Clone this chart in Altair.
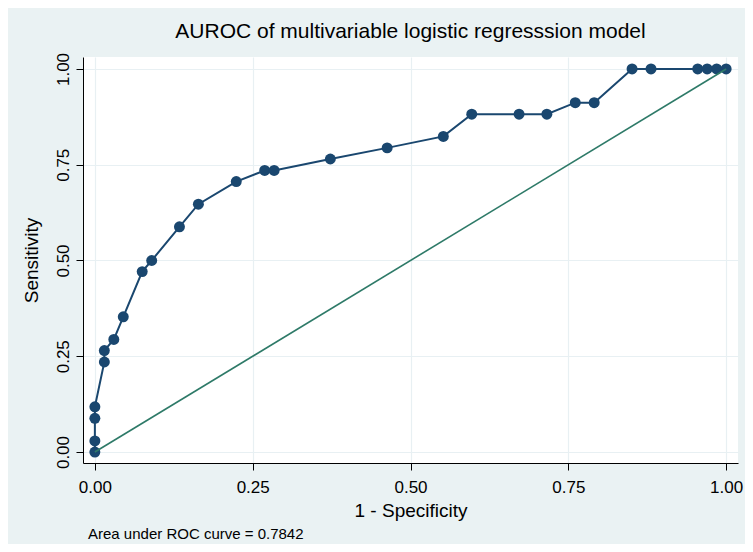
import altair as alt
import pandas as pd

# ROC curve points (1 - specificity, sensitivity)
fpr = [0.000, 0.000, 0.000, 0.000, 0.015, 0.015, 0.030, 0.045, 0.075, 0.090,
       0.134, 0.164, 0.224, 0.269, 0.284, 0.373, 0.463, 0.552, 0.597, 0.672,
       0.716, 0.761, 0.791, 0.851, 0.881, 0.955, 0.970, 0.985, 1.000]
sens = [0.000, 0.029, 0.088, 0.118, 0.235, 0.265, 0.294, 0.353, 0.471, 0.500,
        0.588, 0.647, 0.706, 0.735, 0.735, 0.765, 0.794, 0.824, 0.882, 0.882,
        0.882, 0.912, 0.912, 1.000, 1.000, 1.000, 1.000, 1.000, 1.000]
diag_x = [0.0, 1.0]
diag_y = [0.0, 1.0]
ticks = [0.0, 0.25, 0.5, 0.75, 1.0]
title_text = "AUROC of multivariable logistic regresssion model"
note_text = "Area under ROC curve = 0.7842"

roc = pd.DataFrame({"fpr": fpr, "sens": sens, "order": list(range(len(fpr)))})
diag = pd.DataFrame({"fpr": diag_x, "sens": diag_y})

FONT = "Liberation Sans"
NAVY = "#1A476F"
GREEN = "#2E7A68"

xs = alt.Scale(domain=[-0.0188, 1.0188], nice=False, zero=False)
ys = alt.Scale(domain=[-0.0287, 1.0313], nice=False, zero=False)

xaxis = alt.Axis(values=ticks, format=".2f", title="1 - Specificity",
                 labelFontSize=17, titleFontSize=19, tickSize=7,
                 labelPadding=9, titlePadding=6)
yaxis = alt.Axis(values=ticks, format=".2f", title="Sensitivity",
                 labelFontSize=17, titleFontSize=19, tickSize=7,
                 labelAngle=270, labelAlign="center", labelBaseline="bottom",
                 labelPadding=4, titlePadding=13)

line = alt.Chart(roc).mark_line(color=NAVY, strokeWidth=2).encode(
    x=alt.X("fpr:Q", scale=xs, axis=xaxis),
    y=alt.Y("sens:Q", scale=ys, axis=yaxis),
    order="order:Q",
)
pts = alt.Chart(roc).mark_circle(color=NAVY, size=120, opacity=1).encode(
    x=alt.X("fpr:Q", scale=xs),
    y=alt.Y("sens:Q", scale=ys),
)
ref = alt.Chart(diag).mark_line(color=GREEN, strokeWidth=1.6).encode(
    x=alt.X("fpr:Q", scale=xs),
    y=alt.Y("sens:Q", scale=ys),
)
note = alt.Chart(pd.DataFrame({"t": [note_text]})).mark_text(
    align="left", baseline="middle", fontSize=15, font=FONT, color="#000000"
).encode(text="t:N", x=alt.value(5), y=alt.value(477))

chart = alt.layer(line, pts, ref, note).properties(
    width=655, height=406,
    title=alt.TitleParams(title_text, fontSize=21, font=FONT, fontWeight="normal",
                          color="#000000", anchor="middle", offset=10),
    background="#EAF2F3",
    padding={"left": 75, "top": 49, "right": 7, "bottom": 81},
    autosize=alt.AutoSizeParams(type="none"),
).configure_view(
    fill="white", stroke=None
).configure_axis(
    labelFont=FONT, titleFont=FONT, labelColor="#000000", titleColor="#000000",
    titleFontWeight="normal", domainColor="#000000", tickColor="#000000",
    domainWidth=1, tickWidth=1, gridColor="#E8F0F3", gridWidth=1.2,
    grid=True,
)

chart.save("out.html", embed_options={"renderer": "svg", "actions": False})
